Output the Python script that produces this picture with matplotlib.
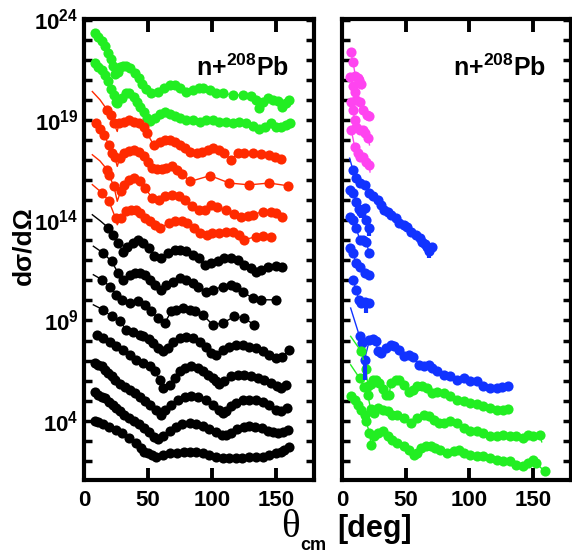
import matplotlib
matplotlib.use('Agg')
import matplotlib.pyplot as plt
from matplotlib.ticker import FixedLocator, NullFormatter
import numpy as np

plt.rcParams['font.family'] = ['Liberation Sans', 'DejaVu Sans']
plt.rcParams['font.weight'] = 'bold'
plt.rcParams['mathtext.fontset'] = 'custom'
plt.rcParams['mathtext.rm'] = 'Liberation Sans:bold'
plt.rcParams['mathtext.bf'] = 'Liberation Sans:bold'
plt.rcParams['mathtext.default'] = 'rm'

# angles in deg, cross sections as log10 (offset curves)
# ---- left panel ----
g1_deg = [8.6, 11.2, 13.8, 16.4, 18.9, 20.8, 22.8, 24.5, 26.5, 28.5, 30.6, 33.0, 35.8, 39.7, 42.8, 45.7, 48.8, 52.7, 57.9, 62.3, 67.0, 71.4, 75.3, 80.0, 85.2, 89.6, 93.5, 98.2, 103.4, 108.5, 116.3, 124.1, 130.6, 134.5, 137.1, 139.7, 143.6, 148.0, 152.1, 155.3, 157.9, 160.5]
g1_log = [23.32, 23.15, 22.95, 22.68, 22.35, 22.02, 21.66, 21.3, 21.4, 21.62, 21.7, 21.68, 21.57, 21.32, 21.07, 20.79, 20.54, 20.33, 20.41, 20.57, 20.74, 20.74, 20.57, 20.41, 20.49, 20.57, 20.57, 20.49, 20.33, 20.33, 20.24, 20.24, 20.19, 19.99, 19.58, 19.91, 20.08, 19.99, 19.96, 19.63, 19.83, 19.99]
g2_deg = [8.6, 11.2, 13.8, 16.4, 18.9, 20.8, 23.4, 24.7, 26.0, 29.9, 32.5, 35.1, 39.0, 41.6, 44.1, 46.7, 49.3, 51.9, 55.8, 59.7, 63.6, 67.5, 71.4, 74.8, 80.0, 85.2, 90.4, 95.6, 100.8, 106.0, 111.2, 116.3, 121.5, 126.7, 131.9, 137.1, 141.8, 146.2, 150.1, 154.0, 157.9, 161.0]
g2_log = [21.82, 21.65, 21.46, 21.24, 20.96, 20.55, 20.24, 19.91, 19.83, 20.08, 20.33, 20.33, 20.16, 19.91, 19.66, 19.41, 19.08, 18.95, 19.1, 19.3, 19.38, 19.3, 19.2, 19.08, 18.99, 18.99, 18.91, 18.99, 18.99, 18.91, 18.91, 18.86, 18.91, 18.83, 18.7, 18.53, 18.66, 18.83, 18.63, 18.63, 18.75, 18.86]

r1_deg = [18.2, 20.8, 23.4, 27.3, 31.2, 35.1, 39.0, 42.9, 46.7, 49.3, 54.5, 59.7, 63.6, 67.5, 71.4, 75.3, 79.2, 83.1, 88.3, 92.2, 97.4, 101.3, 105.9, 109.8, 115.0, 120.2, 125.4, 131.9, 138.4, 144.9, 149.3, 154.0]
r1_log = [19.49, 19.25, 18.83, 18.83, 18.91, 18.99, 18.91, 18.83, 18.66, 18.33, 17.75, 17.92, 18.0, 18.0, 17.92, 17.75, 17.58, 17.42, 17.34, 17.42, 17.5, 17.58, 17.5, 17.34, 17.0, 17.34, 17.37, 17.34, 17.29, 17.25, 17.17, 17.04]
r1_fit = ([6.5, 12.5, 26.0], [20.41, 20.0, 18.42])
r2_deg = [9.1, 12.5, 15.6, 19.5, 22.1, 24.0, 28.0, 31.2, 35.0, 39.0, 43.0, 46.7, 50.0, 53.2, 57.0, 61.0, 64.5, 68.8, 72.5, 76.5, 83.1, 98.7, 113.7, 129.3, 144.9, 160.0]
r2_log = [18.83, 18.55, 18.25, 17.75, 17.34, 17.15, 17.1, 17.34, 17.45, 17.51, 17.4, 17.18, 16.9, 16.6, 16.55, 16.55, 16.62, 16.68, 16.5, 16.3, 15.93, 16.22, 15.85, 15.76, 15.85, 15.71]
r2_fit = ([26.0], [16.68])
r3_deg = [18.2, 19.5, 23.4, 28.6, 31.2, 35.1, 39.0, 44.1, 48.0, 53.2, 58.4, 63.6, 68.8, 74.0, 79.2, 84.4, 90.0, 94.3, 99.5, 104.0, 111.2, 117.0, 122.9, 128.0, 132.0, 139.7, 146.2, 150.5, 155.3]
r3_log = [16.51, 16.26, 15.68, 15.43, 15.77, 16.02, 16.1, 15.93, 15.6, 15.1, 15.02, 15.18, 15.27, 15.18, 15.02, 14.69, 14.5, 14.51, 14.76, 14.68, 14.51, 14.3, 14.15, 14.2, 14.26, 14.43, 14.43, 14.35, 14.18]
r3_fit = ([6.5, 12.5, 26.0], [17.26, 16.95, 14.94])
r4_deg = [14.3, 19.5, 24.7, 28.6, 32.5, 36.4, 40.3, 44.1, 48.0, 52.0, 55.8, 59.7, 66.2, 71.4, 76.6, 80.5, 85.7, 90.9, 96.1, 100.0, 106.0, 111.2, 116.3, 121.5, 125.4, 134.5, 140.0, 146.2]
r4_log = [15.35, 14.94, 14.1, 14.1, 14.44, 14.52, 14.52, 14.35, 14.1, 13.94, 13.77, 13.6, 13.86, 13.94, 13.94, 13.86, 13.61, 13.36, 13.27, 13.36, 13.35, 13.43, 13.43, 13.27, 13.02, 13.18, 13.2, 13.15]
r4_fit = ([6.5, 26.0], [15.77, 13.77])

b1_deg = [19.0, 23.0, 26.5, 30.6, 34.0, 38.0, 42.0, 46.0, 51.0, 55.0, 60.5, 65.7, 70.9, 74.8, 80.0, 85.2, 89.6, 94.3, 99.5, 104.7, 109.8, 115.0, 120.2, 125.4, 130.6, 134.5, 138.4, 143.6, 150.1, 155.3]
b1_log = [13.62, 13.27, 12.87, 12.42, 12.67, 12.87, 13.02, 12.87, 12.62, 12.22, 12.1, 12.36, 12.52, 12.52, 12.44, 12.27, 12.1, 11.77, 11.86, 11.94, 12.1, 12.1, 12.02, 11.77, 11.61, 11.44, 11.52, 11.69, 11.72, 11.69]
b1_fit = ([6.5, 13.0], [14.27, 13.95])
b2_deg = [15.1, 21.6, 26.8, 30.6, 35.8, 39.7, 43.6, 47.5, 51.4, 55.3, 60.5, 64.4, 69.6, 74.8, 80.0, 85.2, 89.1, 95.6, 100.8, 108.6, 115.0, 119.0, 124.1, 131.9, 138.4, 150.1]
b2_log = [12.36, 11.94, 11.36, 11.03, 11.28, 11.36, 11.36, 11.28, 11.03, 10.78, 10.53, 10.78, 10.94, 11.11, 11.03, 10.86, 10.69, 10.44, 10.53, 10.69, 10.78, 10.69, 10.44, 10.11, 10.03, 10.03]
b2_fit = ([7.3], [12.7])
b3_deg = [14.2, 20.2, 25.4, 29.4, 35.8, 42.3, 47.5, 52.7, 57.9, 63.1, 68.3, 72.2, 77.4, 82.6, 86.5, 93.0, 100.8, 108.6, 117.7, 125.4, 133.2]
b3_log = [11.03, 10.69, 10.28, 10.03, 9.86, 9.95, 9.78, 9.45, 9.12, 8.87, 9.45, 9.53, 9.61, 9.53, 9.45, 9.28, 8.78, 8.87, 9.2, 9.12, 8.78]
b3_fit = ([7.3], [11.28])
b4_deg = [15.1, 21.6, 28.0, 33.2, 38.4, 43.6, 46.2, 50.5, 54.0, 57.9, 61.8, 65.7, 69.6, 74.8, 80.0, 85.2, 90.4, 95.6, 99.5, 103.4, 108.6, 113.7, 119.0, 124.1, 129.3, 134.5, 139.7, 144.9, 150.1, 155.3, 160.5]
b4_log = [9.53, 9.2, 8.95, 8.54, 8.45, 8.3, 8.25, 8.1, 7.87, 7.62, 7.46, 7.62, 7.95, 8.12, 8.2, 8.12, 7.95, 7.7, 7.37, 7.29, 7.54, 7.7, 7.79, 7.79, 7.7, 7.62, 7.46, 7.29, 7.12, 7.2, 7.54]
b4_fit = ([7.3], [9.78])
b5_deg = [9.9, 15.0, 20.2, 25.4, 30.6, 35.8, 40.9, 46.2, 51.4, 55.3, 59.2, 61.8, 67.0, 70.9, 74.8, 78.7, 83.9, 89.1, 93.0, 96.9, 100.8, 103.4, 106.0, 109.8, 115.0, 120.2, 125.4, 130.6, 135.8, 141.0, 146.2, 151.4, 154.0, 157.9]
b5_log = [8.29, 8.12, 7.95, 7.71, 7.54, 7.29, 7.04, 6.88, 6.71, 6.46, 6.04, 5.63, 5.8, 6.13, 6.46, 6.63, 6.71, 6.63, 6.46, 6.29, 6.13, 5.96, 5.83, 5.96, 6.21, 6.29, 6.29, 6.21, 6.13, 6.04, 5.88, 5.71, 5.63, 5.8]
b6_deg = [8.6, 11.2, 13.8, 16.4, 19.0, 21.6, 24.1, 28.0, 32.0, 36.0, 40.0, 44.0, 48.0, 52.0, 56.0, 60.5, 63.1, 68.3, 73.5, 78.7, 83.9, 89.1, 95.6, 100.8, 106.0, 108.6, 111.2, 115.0, 119.0, 124.1, 129.3, 134.5, 139.7, 144.9, 150.1, 154.0, 159.2]
b6_log = [6.87, 6.79, 6.71, 6.54, 6.38, 6.21, 6.04, 5.85, 5.7, 5.55, 5.4, 5.2, 5.0, 4.8, 4.55, 4.3, 4.55, 4.8, 5.05, 5.21, 5.26, 5.21, 5.05, 4.8, 4.55, 4.38, 4.47, 4.72, 4.88, 5.05, 5.05, 5.05, 4.96, 4.8, 4.55, 4.47, 4.63]
b7_deg = [8.6, 11.2, 13.8, 16.4, 19.7, 22.3, 25.0, 28.0, 31.0, 35.0, 39.0, 43.0, 47.0, 51.0, 55.0, 58.0, 62.0, 67.0, 72.0, 77.0, 82.6, 88.0, 93.0, 98.0, 103.0, 108.0, 111.2, 115.0, 120.0, 125.0, 129.3, 134.0, 139.0, 144.0, 148.0, 152.0, 156.0, 160.0]
b7_log = [5.46, 5.3, 5.21, 5.13, 4.96, 4.8, 4.63, 4.47, 4.3, 4.15, 4.0, 3.85, 3.65, 3.45, 3.2, 3.1, 3.25, 3.5, 3.7, 3.85, 3.89, 3.85, 3.75, 3.6, 3.45, 3.3, 3.3, 3.4, 3.6, 3.7, 3.72, 3.7, 3.62, 3.5, 3.42, 3.39, 3.45, 3.56]
b8_deg = [8.6, 11.2, 14.5, 19.7, 24.9, 30.0, 35.1, 40.3, 44.2, 46.7, 50.0, 53.0, 56.6, 62.0, 67.5, 72.7, 77.9, 82.6, 88.0, 93.0, 98.0, 103.4, 108.6, 113.7, 119.0, 124.0, 129.3, 134.5, 139.7, 145.0, 150.1, 154.0, 156.6, 160.5]
b8_log = [3.97, 3.93, 3.85, 3.7, 3.54, 3.38, 3.13, 2.88, 2.64, 2.47, 2.38, 2.3, 2.22, 2.3, 2.38, 2.38, 2.47, 2.47, 2.47, 2.38, 2.3, 2.22, 2.14, 2.14, 2.14, 2.14, 2.22, 2.22, 2.22, 2.3, 2.38, 2.47, 2.55, 2.67]

# ---- right panel ----
p1_deg = [6.8, 8.6, 10.5, 12.2, 13.5, 15.1]
p1_log = [22.37, 21.9, 21.2, 21.1, 21.0, 20.8]
p1_fit = ([15.8], [20.55])
p2_deg = [6.2, 8.8, 9.9, 11.2, 13.8, 16.4, 19.7, 21.6]
p2_log = [21.16, 20.69, 20.4, 19.99, 19.91, 19.5, 19.25, 19.2]
p3_deg = [7.3, 8.6, 10.0, 11.2, 13.8, 16.4, 18.2, 20.8]
p3_log = [19.91, 19.5, 19.0, 18.66, 18.5, 18.5, 18.33, 18.08]
p3_fit = ([21.6], [17.75])
p4_deg = [7.3, 9.9, 12.5, 13.8, 16.4, 19.0, 21.6]
p4_log = [18.5, 17.67, 17.34, 17.17, 17.17, 16.92, 16.75]
p4_fit = ([22.0], [16.4])

bl1_deg = [8.6, 11.2, 13.8, 17.7, 21.6, 24.1, 28.0, 31.0, 33.2, 36.0, 38.4, 42.3, 44.9, 48.8, 51.4, 54.0, 57.9, 61.0, 63.1, 65.0, 67.0, 68.3, 70.9]
bl1_log = [16.5, 16.09, 15.84, 15.76, 15.34, 15.18, 15.01, 14.75, 14.51, 14.4, 14.26, 14.1, 13.85, 13.76, 13.68, 13.43, 13.27, 13.1, 12.93, 12.8, 12.68, 12.45, 12.68]
bl1_fit = ([6.0], [17.09])
bl2_deg = [6.2, 8.8, 10.9, 13.0, 15.1, 17.7, 19.2, 21.3]
bl2_log = [15.51, 15.35, 14.93, 14.55, 14.43, 14.6, 14.02, 13.6]
bl3_deg = [6.2, 8.8, 11.2, 14.0, 16.6, 19.2, 21.3]
bl3_log = [14.18, 14.02, 13.6, 13.02, 13.02, 12.9, 12.36]
bl4_deg = [6.2, 8.8, 10.9, 14.0, 17.9, 21.3]
bl4_log = [12.6, 12.36, 11.86, 11.69, 11.36, 11.27]
bl5_deg = [8.8, 10.9, 13.5, 15.3, 18.0, 21.3]
bl5_log = [11.03, 10.53, 10.0, 9.87, 9.9, 9.87]
bl6_deg = [13.8, 15.8, 17.7, 21.6, 24.0, 26.8, 28.0, 30.6, 34.5, 38.4, 41.0, 44.9, 48.8, 52.7, 56.0, 60.5, 64.4, 68.3, 70.9, 74.8, 80.0, 85.2, 90.4, 95.6, 100.8, 106.0, 111.2, 116.3, 121.5, 125.4, 130.6]
bl6_log = [8.21, 7.9, 7.04, 8.04, 8.1, 7.96, 7.46, 7.38, 7.62, 7.79, 7.75, 7.54, 7.21, 7.29, 7.2, 6.79, 6.71, 6.79, 6.63, 6.46, 6.3, 6.21, 6.05, 6.13, 5.96, 5.96, 5.71, 5.63, 5.63, 5.68, 5.71]
bl6_fit = ([6.8], [9.62])
# error bars (deg, top, bottom) in log10
bar_deg = [17.7, 68.3, 21.3, 19.0, 15.1]
bar_top = [7.04, 12.45, 13.6, 9.9, 14.43]
bar_bot = [6.05, 12.1, 13.2, 9.37, 14.1]

gr1_deg = [15.1, 18.5, 20.5, 22.5, 24.1, 26.8, 29.3, 32.0, 34.5, 37.1, 38.4, 42.3, 44.9, 48.8, 52.7, 56.0, 59.2, 63.1, 67.0, 70.9, 74.8, 80.0, 85.2, 90.4, 95.6, 100.8, 106.0, 111.2, 116.3, 121.5, 126.7, 130.6]
gr1_log = [7.46, 6.6, 5.75, 5.85, 6.05, 6.05, 5.88, 5.6, 5.3, 5.3, 5.88, 6.05, 6.05, 5.8, 5.46, 5.55, 5.71, 5.75, 5.63, 5.38, 5.46, 5.38, 5.22, 5.05, 4.97, 4.88, 4.85, 4.72, 4.63, 4.52, 4.55, 4.58]
gr1_fit = ([6.8], [8.21])
gr2_deg = [13.8, 17.0, 20.2, 22.5, 25.0, 28.0, 31.9, 35.8, 39.7, 43.6, 48.8, 54.0, 59.2, 64.4, 68.3, 72.2, 76.1, 80.0, 85.2, 90.4, 95.6, 100.8, 106.0, 111.2, 116.3, 121.5, 126.7, 131.9, 137.1, 142.3, 146.2, 150.1, 155.3]
gr2_log = [6.13, 5.7, 5.3, 4.6, 4.4, 4.63, 4.55, 4.47, 4.3, 4.3, 4.14, 3.89, 4.14, 4.3, 4.22, 4.05, 3.89, 3.89, 3.97, 3.89, 3.64, 3.47, 3.47, 3.39, 3.22, 3.22, 3.31, 3.22, 3.22, 3.14, 3.31, 3.22, 3.31]
gr2_fit = ([6.8, 157.0], [6.79, 2.95])
gr3_deg = [7.3, 9.9, 12.5, 15.1, 17.7, 19.0, 21.6, 22.8, 25.4, 28.0, 31.9, 35.8, 39.7, 43.6, 48.8, 52.7, 56.6, 59.2, 61.8, 65.7, 69.6, 73.5, 77.4, 82.6, 87.8, 91.7, 95.6, 100.8, 106.0, 111.2, 116.3, 121.5, 126.7, 131.9, 137.1, 142.3, 146.2, 150.1, 152.7, 159.2]
gr3_log = [5.22, 5.05, 4.8, 4.55, 4.3, 3.97, 3.39, 2.81, 3.22, 3.39, 3.47, 3.22, 3.06, 2.89, 2.72, 2.56, 2.31, 2.39, 2.64, 2.72, 2.72, 2.64, 2.56, 2.39, 2.48, 2.56, 2.39, 2.31, 2.23, 2.23, 2.14, 2.06, 1.98, 1.98, 1.81, 1.73, 1.89, 2.06, 1.89, 1.48]

GREEN = '#22ee22'
RED = '#ff2a00'
PINK = '#ff44f0'
BLUE = '#1133ff'

left_sets = [(g1_deg, g1_log, None, GREEN), (g2_deg, g2_log, None, GREEN),
             (r1_deg, r1_log, r1_fit, RED), (r2_deg, r2_log, r2_fit, RED),
             (r3_deg, r3_log, r3_fit, RED), (r4_deg, r4_log, r4_fit, RED),
             (b1_deg, b1_log, b1_fit, 'k'), (b2_deg, b2_log, b2_fit, 'k'),
             (b3_deg, b3_log, b3_fit, 'k'), (b4_deg, b4_log, b4_fit, 'k'),
             (b5_deg, b5_log, None, 'k'), (b6_deg, b6_log, None, 'k'),
             (b7_deg, b7_log, None, 'k'), (b8_deg, b8_log, None, 'k')]
right_sets = [(p1_deg, p1_log, p1_fit, PINK), (p2_deg, p2_log, None, PINK),
              (p3_deg, p3_log, p3_fit, PINK), (p4_deg, p4_log, p4_fit, PINK),
              (bl1_deg, bl1_log, bl1_fit, BLUE), (bl2_deg, bl2_log, None, BLUE),
              (bl3_deg, bl3_log, None, BLUE), (bl4_deg, bl4_log, None, BLUE),
              (bl5_deg, bl5_log, None, BLUE), (bl6_deg, bl6_log, bl6_fit, BLUE),
              (gr1_deg, gr1_log, gr1_fit, GREEN), (gr2_deg, gr2_log, gr2_fit, GREEN),
              (gr3_deg, gr3_log, None, GREEN)]


def draw(ax, deg, lg, fit, col):
    xs = list(deg)
    ys = list(lg)
    if fit is not None:
        xs = xs + list(fit[0])
        ys = ys + list(fit[1])
    order = np.argsort(xs)
    ax.plot(np.array(xs)[order], 10.0 ** np.array(ys)[order], '-', color=col, lw=1.0)
    ax.plot(deg, 10.0 ** np.array(lg), 'o', color=col, ms=7.3, mew=0)


fig = plt.figure(figsize=(5.72, 5.56), dpi=100)
ax1 = fig.add_axes([0.1469, 0.1367, 0.4021, 0.830])
ax2 = fig.add_axes([0.5979, 0.1367, 0.4003, 0.830])

for ax in (ax1, ax2):
    ax.set_yscale('log')
    ax.set_xlim(0, 180)
    ax.set_ylim(10 ** 1.05, 10 ** 24.05)
    ax.yaxis.set_major_locator(FixedLocator(10.0 ** np.arange(4, 25, 5)))
    ax.yaxis.set_minor_locator(FixedLocator(10.0 ** np.arange(2, 24)))
    ax.yaxis.set_minor_formatter(NullFormatter())
    ax.set_xticks([0, 50, 100, 150])
    ax.tick_params(axis='y', which='both', direction='in', left=True, right=True,
                   length=6, width=2.5)
    ax.tick_params(axis='x', which='both', direction='in', top=True, bottom=True,
                   length=9, width=2.8, labelsize=16, pad=7)
    for sp in ax.spines.values():
        sp.set_linewidth(3)
    ax.text(0.89, 0.893, 'n+$^{208}$Pb', transform=ax.transAxes, ha='right',
            va='center', fontsize=18, fontweight='bold')

for d, l, f, c in left_sets:
    draw(ax1, d, l, f, c)
for d, l, f, c in right_sets:
    draw(ax2, d, l, f, c)
ax2.vlines(bar_deg, 10.0 ** np.array(bar_bot), 10.0 ** np.array(bar_top), color=BLUE, lw=3)

ax1.set_yticklabels([r'$10^{%d}$' % e for e in range(4, 25, 5)])
ax1.tick_params(axis='y', labelsize=16, pad=4)
ax2.tick_params(axis='y', labelleft=False)

fig.text(23 / 572, 1 - 246 / 556, 'dσ/dΩ', rotation=90, ha='center', va='center',
         fontsize=19, fontweight='bold')
fig.text(281 / 572, 1 - 537 / 556, 'θ', family=['Liberation Serif'], fontsize=28,
         fontweight='normal', ha='left', va='baseline')
fig.text(300 / 572, 1 - 550 / 556, 'cm', fontsize=13, fontweight='bold', ha='left', va='baseline')
fig.text(337 / 572, 1 - 537 / 556, '[deg]', fontsize=22, fontweight='bold', ha='left', va='baseline')

fig.savefig('out.png', dpi=100)
